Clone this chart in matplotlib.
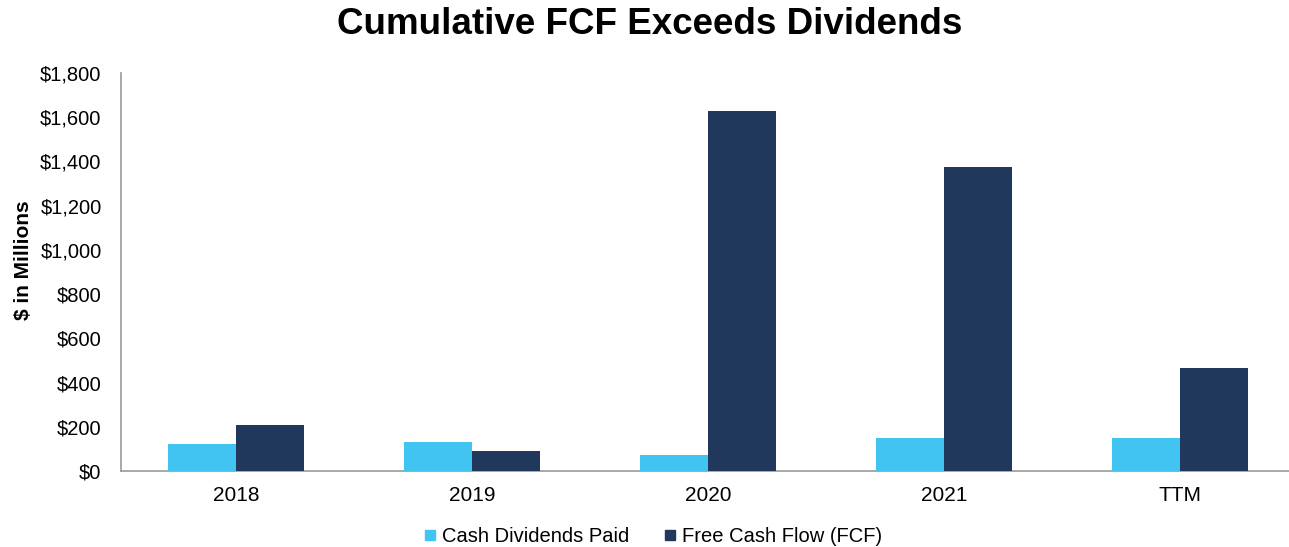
import matplotlib
matplotlib.use("Agg")
import matplotlib.pyplot as plt
from matplotlib.lines import Line2D
import numpy as np

plt.rcParams["font.family"] = ["Liberation Sans", "DejaVu Sans"]

# ── Data ─────────────────────────────────────────────────────────────────────
categories = ["2018", "2019", "2020", "2021", "TTM"]
dividends = [122, 130, 72, 149, 149]      # Cash Dividends Paid ($M)
fcf = [207, 92, 1628, 1375, 467]          # Free Cash Flow ($M)
yticks = [0, 200, 400, 600, 800, 1000, 1200, 1400, 1600, 1800]

c_div = "#41C4F2"
c_fcf = "#1F385C"

fig = plt.figure(figsize=(12.89, 5.47), dpi=100, facecolor="white")
ax = fig.add_axes([121 / 1289, 76 / 547, 1 - 121 / 1289, (471 - 73) / 547])

x = np.arange(len(categories))
w = 0.288
ax.bar(x - w / 2, dividends, width=w, color=c_div, zorder=3)
ax.bar(x + w / 2, fcf, width=w, color=c_fcf, zorder=3)

ax.set_xlim(-0.487, 4.462)
ax.set_ylim(0, 1800)
ax.set_yticks(yticks)
ax.set_yticklabels([f"${v:,}" for v in yticks])
ax.set_xticks(x)
ax.set_xticklabels(categories)
ax.tick_params(axis="y", length=0, pad=14, labelsize=14.5)
ax.tick_params(axis="x", length=0, pad=11, labelsize=15)

for s in ["top", "right"]:
    ax.spines[s].set_visible(False)
for s in ["left", "bottom"]:
    ax.spines[s].set_color("#999999")
    ax.spines[s].set_linewidth(1.2)

ax.set_ylabel("$ in Millions", fontsize=15, fontweight="bold")
ax.yaxis.set_label_coords((33 - 121) / 1168, 0.53)

fig.suptitle("Cumulative FCF Exceeds Dividends", fontsize=26.5, fontweight="bold",
             x=650 / 1289, y=1 - 25 / 547, va="center")

handles = [
    Line2D([], [], marker="s", linestyle="none", markersize=7.5, color=c_div,
           label="Cash Dividends Paid"),
    Line2D([], [], marker="s", linestyle="none", markersize=7.5, color=c_fcf,
           label="Free Cash Flow (FCF)"),
]
fig.legend(handles=handles, loc="center", ncol=2, frameon=False, fontsize=14.5,
           bbox_to_anchor=(652 / 1289, 1 - 537 / 547), handlelength=0.8,
           handletextpad=0.2, columnspacing=1.6)

fig.savefig("out.png", dpi=100, facecolor="white")
